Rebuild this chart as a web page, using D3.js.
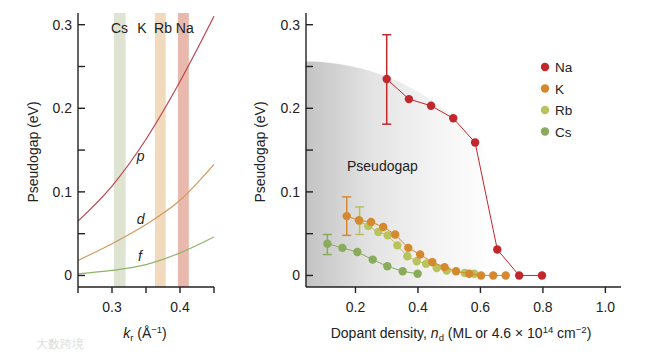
<!DOCTYPE html>
<html><head><meta charset="utf-8">
<script src="https://cdn.jsdelivr.net/npm/d3@7"></script>
<style>
body{margin:0;background:#fff;}
svg{display:block;font-family:"Liberation Sans",Arial,Helvetica,sans-serif;}
</style></head>
<body>
<script>
// ---------- Left panel data ----------
const krValues = [0.25, 0.30, 0.35, 0.40, 0.45];
const pCurve = [0.065, 0.107, 0.163, 0.232, 0.310];
const dCurve = [0.018, 0.038, 0.061, 0.090, 0.133];
const fCurve = [0.002, 0.006, 0.013, 0.027, 0.046];
const bandNames = ["Cs", "Rb", "Na"];
const bandStart = [0.303, 0.363, 0.397];
const bandEnd = [0.320, 0.379, 0.413];
const bandLabels = ["Cs", "K", "Rb", "Na"];
const bandLabelPos = [0.311, 0.344, 0.375, 0.407];
const leftXTicks = [0.25, 0.30, 0.35, 0.40, 0.45];
const leftXLabels = ["", "0.3", "", "0.4", ""];

// ---------- Right panel data ----------
const seriesNames = ["Na", "K", "Rb", "Cs"];
const naX = [0.30, 0.371, 0.442, 0.513, 0.583, 0.654, 0.724, 0.797];
const naY = [0.235, 0.211, 0.203, 0.188, 0.159, 0.031, 0.0, 0.0];
const kX = [0.172, 0.211, 0.250, 0.289, 0.327, 0.369, 0.407, 0.446, 0.485, 0.522, 0.564, 0.602, 0.641, 0.681];
const kY = [0.071, 0.066, 0.064, 0.058, 0.049, 0.033, 0.025, 0.016, 0.010, 0.005, 0.002, 0.0, 0.0, 0.0];
const rbX = [0.213, 0.241, 0.273, 0.303, 0.334, 0.366, 0.396, 0.426, 0.460, 0.492, 0.550, 0.580];
const rbY = [0.065, 0.059, 0.052, 0.048, 0.036, 0.023, 0.017, 0.014, 0.009, 0.006, 0.003, 0.002];
const csX = [0.110, 0.158, 0.206, 0.255, 0.302, 0.351, 0.399];
const csY = [0.038, 0.033, 0.028, 0.019, 0.011, 0.005, 0.002];
// error bars
const errSeries = ["Na", "K", "Rb", "Cs"];
const errX = [0.30, 0.172, 0.213, 0.110];
const errLow = [0.181, 0.048, 0.049, 0.025];
const errHigh = [0.288, 0.094, 0.082, 0.049];
const rightXTicks = [0.2, 0.4, 0.6, 0.8, 1.0];
const yMajorTicks = [0, 0.1, 0.2, 0.3];
const yMinorTicks = [0.05, 0.15, 0.25];

const colors = {Na: "#c1272d", K: "#d4892f", Rb: "#b9c25c", Cs: "#8aab5b"};
const curveColors = {p: "#bf4550", d: "#d29a5f", f: "#8db46b"};
const bandColors = {Cs: "#dfe3d1", Rb: "#f1dabd", Na: "#e9b9ae"};

const W = 668, H = 356;
const svg = d3.select("body").append("svg").attr("width", W).attr("height", H);
const axisColor = "#222";
const tickFont = 14;
const titleFont = 14;

const yScale = d3.scaleLinear().domain([-0.0138, 0.314]).range([287, 13]);
const xLeft = d3.scaleLinear().domain([0.25, 0.45]).range([78, 214]);
const xRight = d3.scaleLinear().domain([0.04, 1.05]).range([305.5, 621]);

// ---------- Left panel ----------
const L = svg.append("g");
bandNames.forEach((n, i) => {
  L.append("rect")
    .attr("x", xLeft(bandStart[i]))
    .attr("width", xLeft(bandEnd[i]) - xLeft(bandStart[i]))
    .attr("y", 13).attr("height", 287 - 13)
    .attr("fill", bandColors[n]);
});
bandLabels.forEach((t, i) => {
  L.append("text").attr("x", xLeft(bandLabelPos[i])).attr("y", 33)
    .attr("text-anchor", "middle").attr("font-size", 14).attr("fill", "#222").text(t);
});
const lineL = d3.line().x((d, i) => xLeft(krValues[i])).y(d => yScale(d)).curve(d3.curveMonotoneX);
[["p", pCurve], ["d", dCurve], ["f", fCurve]].forEach(([k, arr]) => {
  L.append("path").attr("d", lineL(arr)).attr("fill", "none")
    .attr("stroke", curveColors[k]).attr("stroke-width", 1.2);
});
const curveLabelX = [0.342, 0.342, 0.341];
const curveLabelY = [0.137, 0.061, 0.017];
["p", "d", "f"].forEach((t, i) => {
  L.append("text").attr("x", xLeft(curveLabelX[i])).attr("y", yScale(curveLabelY[i]))
    .attr("text-anchor", "middle").attr("font-size", 14).attr("font-style", "italic")
    .attr("fill", "#222").text(t);
});

function drawYAxis(g, x0) {
  g.append("line").attr("x1", x0).attr("x2", x0).attr("y1", 13).attr("y2", 287)
    .attr("stroke", axisColor).attr("stroke-width", 1.4);
  yMajorTicks.concat(yMinorTicks).forEach(v => {
    g.append("line").attr("x1", x0).attr("x2", x0 + 7).attr("y1", yScale(v)).attr("y2", yScale(v))
      .attr("stroke", axisColor).attr("stroke-width", 1.4);
  });
  yMajorTicks.forEach(v => {
    g.append("text").attr("x", x0 - 6).attr("y", yScale(v) + 5)
      .attr("text-anchor", "end").attr("font-size", tickFont).attr("fill", "#222")
      .text(v === 0 ? "0" : d3.format(".1f")(v));
  });
}
drawYAxis(L, 78);
L.append("line").attr("x1", 78).attr("x2", 214).attr("y1", 287).attr("y2", 287)
  .attr("stroke", axisColor).attr("stroke-width", 1.4);
leftXTicks.forEach((v, i) => {
  L.append("line").attr("x1", xLeft(v)).attr("x2", xLeft(v)).attr("y1", 287).attr("y2", 293)
    .attr("stroke", axisColor).attr("stroke-width", 1.4);
  if (leftXLabels[i]) L.append("text").attr("x", xLeft(v)).attr("y", 312)
    .attr("text-anchor", "middle").attr("font-size", tickFont).attr("fill", "#222").text(leftXLabels[i]);
});
L.append("text").attr("transform", "translate(38,152) rotate(-90)")
  .attr("text-anchor", "middle").attr("font-size", titleFont).attr("fill", "#222").text("Pseudogap (eV)");
const kl = L.append("text").attr("x", 145).attr("y", 338).attr("text-anchor", "middle")
  .attr("font-size", titleFont).attr("fill", "#222");
kl.append("tspan").attr("font-style", "italic").text("k");
kl.append("tspan").attr("font-size", 9.5).attr("dy", 3).text("r");
kl.append("tspan").attr("dy", -3).text(" (Å");
kl.append("tspan").attr("font-size", 9.5).attr("dy", -5).text("−1");
kl.append("tspan").attr("dy", 5).text(")");

// ---------- Right panel ----------
const R = svg.append("g");
const defs = svg.append("defs");
const grad = defs.append("linearGradient").attr("id", "pg").attr("x1", 0).attr("x2", 1).attr("y1", 0).attr("y2", 0);
grad.append("stop").attr("offset", "0%").attr("stop-color", "#c3c3c3");
grad.append("stop").attr("offset", "30%").attr("stop-color", "#e4e4e4");
grad.append("stop").attr("offset", "60%").attr("stop-color", "#f5f5f5");
grad.append("stop").attr("offset", "85%").attr("stop-color", "#ffffff");
const ex0 = 0.04, erx = 0.72, eTop = 0.256, eBot = -0.0138;
const angles = d3.range(0, 91, 2).map(a => a * Math.PI / 180);
const ellPts = [[ex0, eBot]].concat(angles.map(a => [ex0 + erx * Math.sin(a), eBot + (eTop - eBot) * Math.cos(a)]));
R.append("path")
  .attr("d", d3.line().x(d => xRight(d[0])).y(d => yScale(d[1]))(ellPts) + "Z")
  .attr("fill", "url(#pg)");
R.append("text").attr("x", 347).attr("y", 171).attr("font-size", 14).attr("fill", "#222").text("Pseudogap");

drawYAxis(R, 306);
R.append("line").attr("x1", 306).attr("x2", 621).attr("y1", 287).attr("y2", 287)
  .attr("stroke", axisColor).attr("stroke-width", 1.4);
rightXTicks.forEach(v => {
  R.append("line").attr("x1", xRight(v)).attr("x2", xRight(v)).attr("y1", 287).attr("y2", 293)
    .attr("stroke", axisColor).attr("stroke-width", 1.4);
  R.append("text").attr("x", xRight(v)).attr("y", 312).attr("text-anchor", "middle")
    .attr("font-size", tickFont).attr("fill", "#222").text(d3.format(".1f")(v));
});
R.append("text").attr("transform", "translate(265,152) rotate(-90)")
  .attr("text-anchor", "middle").attr("font-size", titleFont).attr("fill", "#222").text("Pseudogap (eV)");
const xl = R.append("text").attr("x", 461).attr("y", 338).attr("text-anchor", "middle")
  .attr("font-size", titleFont).attr("fill", "#222");
xl.append("tspan").text("Dopant density, ");
xl.append("tspan").attr("font-style", "italic").text("n");
xl.append("tspan").attr("font-size", 9.5).attr("dy", 3).text("d");
xl.append("tspan").attr("dy", -3).text(" (ML or 4.6 × 10");
xl.append("tspan").attr("font-size", 9.5).attr("dy", -5).text("14");
xl.append("tspan").attr("dy", 5).text(" cm");
xl.append("tspan").attr("font-size", 9.5).attr("dy", -5).text("−2");
xl.append("tspan").attr("dy", 5).text(")");

const seriesData = {Na: [naX, naY], K: [kX, kY], Rb: [rbX, rbY], Cs: [csX, csY]};
const drawOrder = ["Cs", "Rb", "K", "Na"];
errSeries.forEach((s, i) => {
  const g = R.append("g").attr("stroke", colors[s]).attr("stroke-width", 1.5);
  const x = xRight(errX[i]);
  g.append("line").attr("x1", x).attr("x2", x).attr("y1", yScale(errLow[i])).attr("y2", yScale(errHigh[i]));
  [errLow[i], errHigh[i]].forEach(v => g.append("line").attr("x1", x - 4.5).attr("x2", x + 4.5)
    .attr("y1", yScale(v)).attr("y2", yScale(v)));
});
drawOrder.forEach(s => {
  const [xs, ys] = seriesData[s];
  const pts = xs.map((x, i) => [x, ys[i]]);
  R.append("path").attr("d", d3.line().x(d => xRight(d[0])).y(d => yScale(d[1]))(pts))
    .attr("fill", "none").attr("stroke", colors[s]).attr("stroke-width", 1);
  R.selectAll(null).data(pts).enter().append("circle")
    .attr("cx", d => xRight(d[0])).attr("cy", d => yScale(d[1])).attr("r", 4.2)
    .attr("fill", colors[s]);
});
seriesNames.forEach((s, i) => {
  const y = 67 + i * 21.5;
  R.append("circle").attr("cx", 545).attr("cy", y).attr("r", 4.2).attr("fill", colors[s]);
  R.append("text").attr("x", 555).attr("y", y + 5).attr("font-size", 13.5).attr("fill", "#222").text(s);
});

svg.append("text").attr("x", 36).attr("y", 348).attr("font-size", 12).attr("fill", "#dcdcdc").text("大数跨境");
</script>
</body></html>
